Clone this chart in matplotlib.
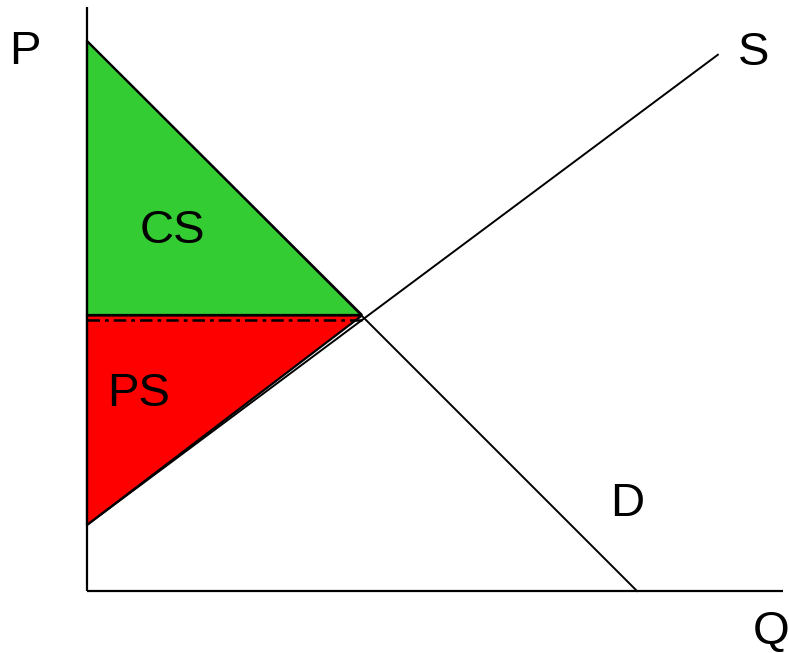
import matplotlib
matplotlib.use("Agg")
import matplotlib.pyplot as plt

# Data (economic units)
demand_q = [0, 100]
demand_p = [100, 0]
supply_q = [0, 114.7]
supply_p = [12, 97.5]
eq_q = 50.5
eq_p = 49.6

cs_q = [0, 0, eq_q - 0.5]
cs_p = [100, eq_p + 0.5, eq_p + 0.5]
ps_q = [0, eq_q - 0.5, 0]
ps_p = [eq_p + 0.5, eq_p + 0.5, 12]

S = 5.5  # px per unit
fig = plt.figure(figsize=(7.89, 6.53), dpi=100)
ax = fig.add_axes([0, 0, 1, 1])
ax.set_xlim(-87 / S, (789 - 87) / S)
ax.set_ylim(-(653 - 591) / S, 591 / S)
ax.axis("off")

ax.fill(ps_q, ps_p, facecolor="#ff0000", edgecolor="black", linewidth=1.6, zorder=1)
ax.fill(cs_q, cs_p, facecolor="#33cc33", edgecolor="black", linewidth=1.6, zorder=1.5)
ax.plot([0, eq_q], [eq_p - 0.35, eq_p - 0.35], color="black", linestyle=(0, (5, 2, 1.5, 2)), linewidth=1.8, zorder=2)

ax.plot(demand_q, demand_p, color="black", linewidth=1.4, zorder=3)
ax.plot(supply_q, supply_p, color="black", linewidth=1.4, zorder=3)

# axes
ax.plot([0, 0], [0, (591 - 7) / S], color="black", linewidth=1.6, zorder=4, solid_capstyle="butt")
ax.plot([0, (783 - 87) / S], [0, 0], color="black", linewidth=1.6, zorder=4, solid_capstyle="butt")

fp = dict(fontsize=34, family=["Liberation Sans", "DejaVu Sans"], ha="center", va="baseline", color="black")
ax.text((25 - 87) / S, (591 - 64) / S, "P", **fp)
ax.text((771 - 87) / S, (591 - 644) / S, "Q", **fp)
ax.text((754 - 87) / S, (591 - 65) / S, "S", **fp)
ax.text((627 - 87) / S, (591 - 516) / S, "D", **fp)
ax.text((172 - 87) / S, (591 - 243) / S, "CS", **fp)
ax.text((139 - 87) / S, (591 - 406) / S, "PS", **fp)

fig.savefig("out.png", dpi=100)
